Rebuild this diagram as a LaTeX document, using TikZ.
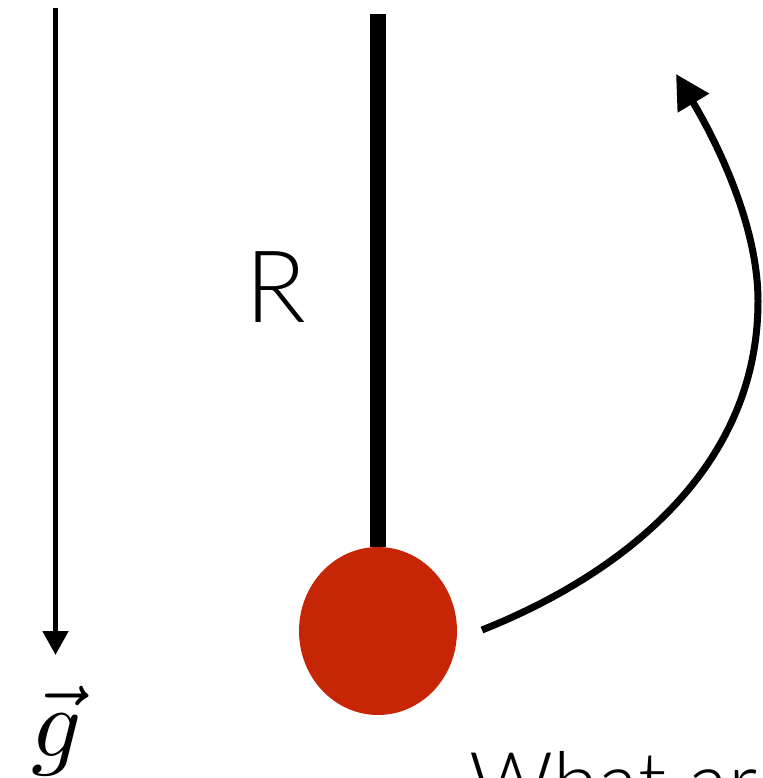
\documentclass[tikz,border=0pt]{standalone}
\usepackage{fontspec}
\usepackage{xcolor}
\usepackage{tikz}
\usetikzlibrary{arrows.meta,positioning,shapes.geometric}

\newfontfamily\labelfont{Lato}[UprightFont=* Light]
\definecolor{bobred}{HTML}{C62606}

\begin{document}
\begin{tikzpicture}[
  x=0.02cm, y=-0.02cm,
  gravity/.style={line width=0.1cm, -{Triangle[length=0.48cm, width=0.5cm]}},
  rod/.style={line width=0.32cm},
  swing/.style={line width=0.14cm, -{Triangle[length=0.68cm, width=0.7cm]}},
  bob/.style={ellipse, fill=bobred, minimum width=3.16cm, minimum height=3.36cm, inner sep=0pt},
  biglabel/.style={font=\labelfont\fontsize{57}{68}\selectfont, inner sep=0pt},
  question/.style={font=\labelfont\fontsize{47}{56}\selectfont, inner sep=0pt},
]
\useasboundingbox (0,0) rectangle (762,778);

% Gravity arrow (left)
\coordinate (gtop) at (55.5,8);
\coordinate (gtip) at (55.5,655);
\draw[gravity] (gtop) -- (gtip);
\node[inner sep=0pt] (glabel) at (57,731) {\scalebox{5.6}{$\vec{g}$}};

% Pendulum rod and bob
\coordinate (rodtop) at (378,14);
\node[bob] (bob) at (378,631) {};
\draw[rod] (rodtop) -- (bob.north);
\node[biglabel] (rlabel) at (276,287) {R};

% Swing arrow (right)
\coordinate (swingstart) at (482,630);
\coordinate (swingside) at (758,301);
\coordinate (swingtip) at (676,74);
\draw[swing] (swingstart) .. controls (620,575) and (758,470) .. (swingside)
  .. controls (758,221) and (712,134) .. (swingtip);

% Question text (cut off at the bottom)
\node[question, anchor=base west] (question) at (469,811) {What ar};

\end{tikzpicture}
\end{document}
